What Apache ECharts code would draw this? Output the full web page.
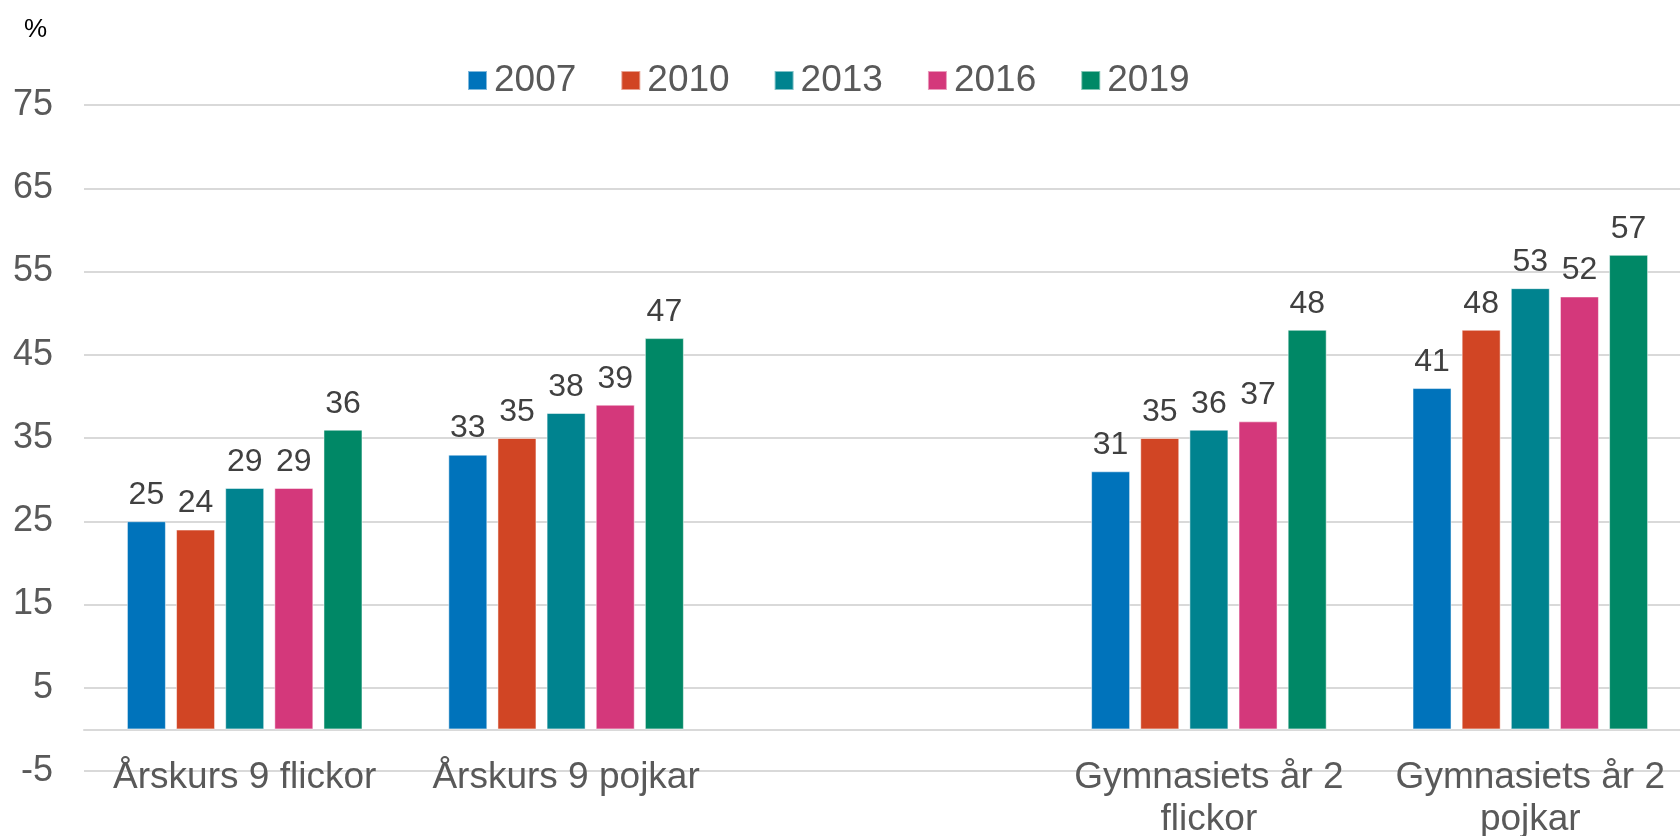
<!DOCTYPE html>
<html lang="sv">

<head>
    <meta charset="UTF-8">
    <title>Andel per årskurs</title>
    <style>
        html,
        body,
        #main {
            width: 100%;
            height: 100%;
            margin: 0;
            padding: 0;
            background-color: #fff;
        }
    </style>
    <script src="https://cdn.jsdelivr.net/npm/echarts@6/dist/echarts.min.js"></script>
</head>

<body>
    <div id="main"></div>
    <script>
        // data
        const categories = ['Årskurs 9 flickor', 'Årskurs 9 pojkar', '', 'Gymnasiets år 2\nflickor', 'Gymnasiets år 2\npojkar'];
        const years = ['2007', '2010', '2013', '2016', '2019'];
        const v2007 = [25, 33, null, 31, 41];
        const v2010 = [24, 35, null, 35, 48];
        const v2013 = [29, 38, null, 36, 53];
        const v2016 = [29, 39, null, 37, 52];
        const v2019 = [36, 47, null, 48, 57];
        const colors = ['#0073BB', '#D14524', '#00838F', '#D4387B', '#008866'];

        const values = [v2007, v2010, v2013, v2016, v2019];
        const font = 'Arial, "Liberation Sans", sans-serif';

        var chart = echarts.init(document.getElementById('main'));

        var option = {
            animation: false,
            color: colors,
            title: {
                text: '%',
                left: 19,
                top: 12,
                textStyle: { fontFamily: font, fontSize: 26, fontWeight: 'normal', color: '#000' }
            },
            legend: {
                data: years,
                left: 462,
                top: 57,
                itemWidth: 19,
                itemHeight: 19,
                itemGap: 44,
                icon: 'rect',
                textStyle: { fontFamily: font, fontSize: 37, color: '#595959', padding: [0, 0, 0, 2] }
            },
            grid: {
                left: 84,
                top: 105,
                width: 1607,
                bottom: 65,
                outerBoundsMode: 'none',
                containLabel: false
            },
            xAxis: {
                type: 'category',
                data: categories,
                axisTick: { show: false },
                axisLine: { onZero: true, lineStyle: { color: '#d9d9d9', width: 2 } },
                axisLabel: {
                    fontFamily: font,
                    fontSize: 37,
                    color: '#595959',
                    margin: -14,
                    lineHeight: 42,
                    interval: 0
                }
            },
            yAxis: {
                type: 'value',
                min: -5,
                max: 75,
                interval: 10,
                axisLine: { show: false },
                axisTick: { show: false },
                splitLine: { lineStyle: { color: '#d9d9d9', width: 2 } },
                axisLabel: { fontFamily: font, fontSize: 36, color: '#595959', margin: 31 }
            },
            series: years.map(function (y, i) {
                return {
                    name: y,
                    type: 'bar',
                    data: values[i],
                    barWidth: 39,
                    barGap: '26%',
                    itemStyle: { borderColor: 'rgba(255,255,255,0.5)', borderWidth: 1 },
                    label: {
                        show: true,
                        position: 'top',
                        distance: 10,
                        fontFamily: font,
                        fontSize: 32,
                        color: '#404040'
                    }
                };
            })
        };

        chart.setOption(option);
    </script>
</body>

</html>
